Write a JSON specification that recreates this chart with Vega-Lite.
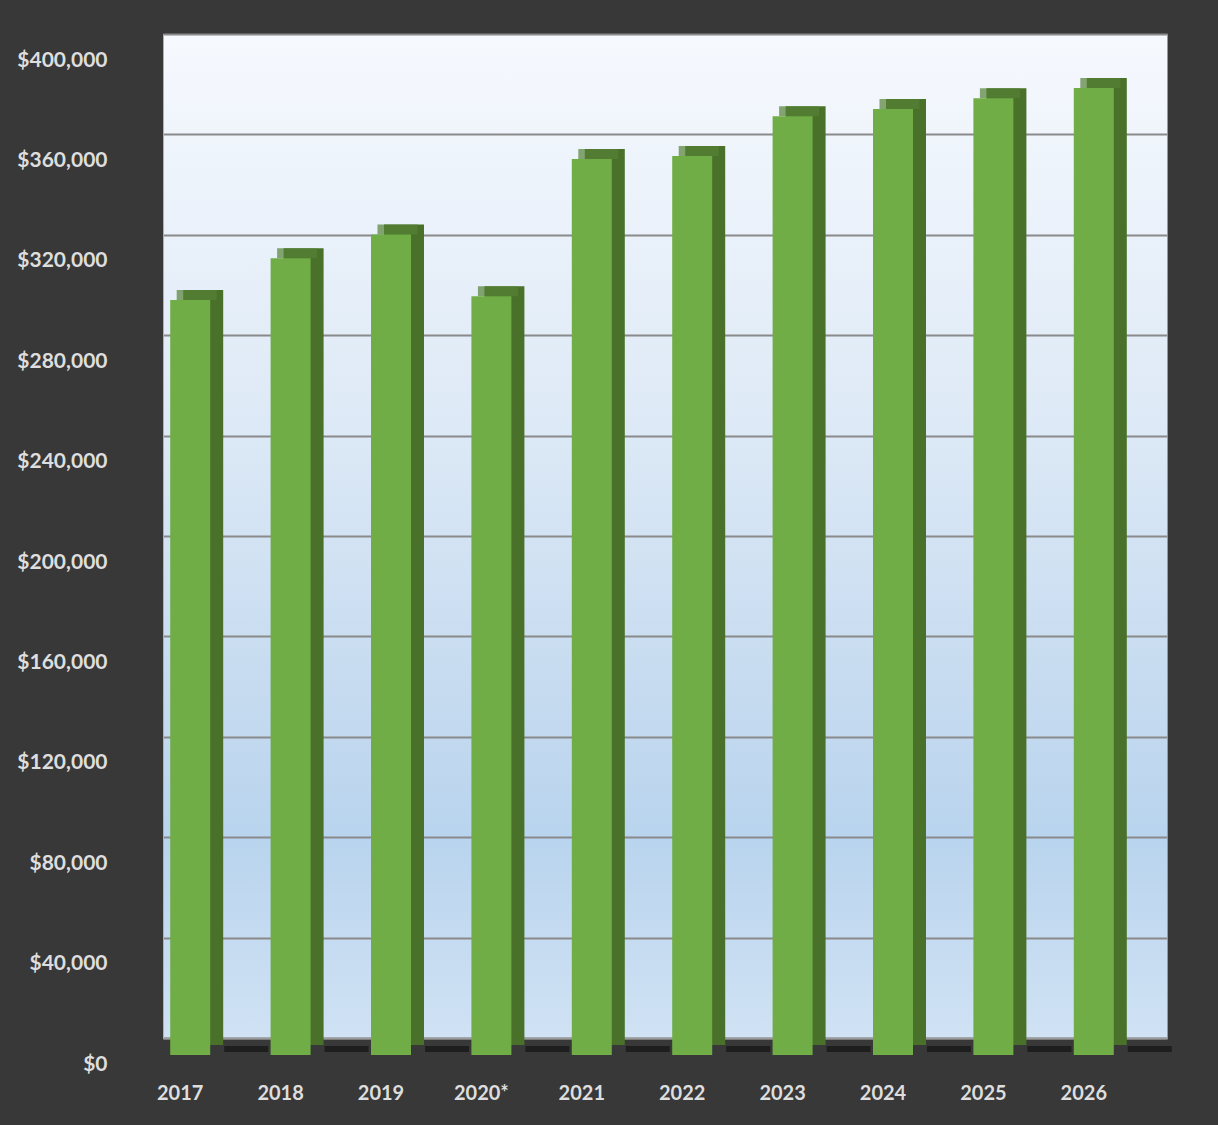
{
  "$schema": "https://vega.github.io/schema/vega-lite/v6.json",
  "autosize": "none",
  "width": 1004,
  "height": 1004,
  "padding": {"left": 163, "top": 34, "right": 51, "bottom": 87},
  "background": "#383838",
  "view": {
    "fill": {
      "gradient": "linear",
      "x1": 0, "y1": 0, "x2": 0, "y2": 1,
      "stops": [
        {"offset": 0, "color": "#f6f9fe"},
        {"offset": 0.35, "color": "#e0ebf7"},
        {"offset": 0.65, "color": "#c6dbf0"},
        {"offset": 0.8, "color": "#b9d4ee"},
        {"offset": 1, "color": "#d0e2f4"}
      ]
    },
    "stroke": "#9a9a9a",
    "strokeWidth": 1
  },
  "data": {
    "values": [
      {"year": "2017", "value": 300800},
      {"year": "2018", "value": 317400},
      {"year": "2019", "value": 326900},
      {"year": "2020*", "value": 302300},
      {"year": "2021", "value": 357000},
      {"year": "2022", "value": 358200},
      {"year": "2023", "value": 374000},
      {"year": "2024", "value": 376900},
      {"year": "2025", "value": 381200},
      {"year": "2026", "value": 385300}
    ]
  },
  "encoding": {
    "x": {
      "field": "year",
      "type": "nominal",
      "sort": null,
      "scale": {"paddingInner": 0, "paddingOuter": 0},
      "axis": {
        "title": null,
        "labelAngle": 0,
        "labelFont": "Lato",
        "labelFontWeight": "bold",
        "labelFontSize": 20,
        "labelColor": "#dedede",
        "labelOffset": -33,
        "labelPadding": 55,
        "labelBaseline": "middle",
        "ticks": false,
        "tickSize": 0,
        "domainColor": "#9a9a9a",
        "domainWidth": 2,
        "grid": false
      }
    },
    "y": {
      "field": "value",
      "type": "quantitative",
      "scale": {"domain": [0, 400000], "nice": false},
      "axis": {
        "title": null,
        "values": [0, 40000, 80000, 120000, 160000, 200000, 240000, 280000, 320000, 360000, 400000],
        "format": "$,.0f",
        "labelFont": "Lato",
        "labelFontWeight": "bold",
        "labelFontSize": 21,
        "labelColor": "#dedede",
        "labelOffset": 26,
        "labelPadding": 56,
        "labelBaseline": "middle",
        "ticks": false,
        "tickSize": 0,
        "domainColor": "#b0b0b0",
        "domainWidth": 1,
        "grid": true,
        "gridColor": "#8a8a8a",
        "gridWidth": 2
      }
    }
  },
  "layer": [
    {
      "mark": {"type": "tick", "orient": "horizontal", "color": "#000000", "opacity": 0.45, "size": 44, "thickness": 6, "xOffset": 33, "yOffset": 11},
      "encoding": {"y": {"datum": 0, "type": "quantitative"}}
    },
    {
      "mark": {"type": "bar", "color": "#4a712a", "width": 40, "xOffset": -10, "yOffset": 7}
    },
    {
      "mark": {"type": "tick", "orient": "horizontal", "color": "#548235", "size": 40, "thickness": 10, "xOffset": -16.5, "yOffset": 12}
    },
    {
      "mark": {"type": "bar", "color": "#70ad47", "width": 40, "xOffset": -23, "yOffset": 17}
    }
  ]
}
